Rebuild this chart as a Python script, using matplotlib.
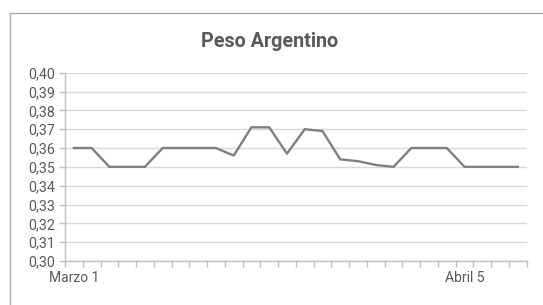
import numpy as np
import matplotlib
matplotlib.use("Agg")
import matplotlib.pyplot as plt
from matplotlib.patches import Rectangle
from matplotlib.ticker import FuncFormatter, MultipleLocator

# tipo de cambio diario (26 valores)
valores = [0.360, 0.360, 0.350, 0.350, 0.350, 0.360, 0.360, 0.360, 0.360, 0.356,
           0.371, 0.371, 0.357, 0.370, 0.369, 0.354, 0.353, 0.351, 0.350, 0.360,
           0.360, 0.360, 0.350, 0.350, 0.350, 0.350]
etiquetas = ["Marzo 1", "Abril 5"]
idx_etiquetas = [0, 22]
titulo = "Peso Argentino"

plt.rcParams['font.family'] = ['Roboto', 'DejaVu Sans']
texto = '#595959'
gris = '#bfbfbf'

fig = plt.figure(figsize=(5.43, 3.05), dpi=100)
ax = fig.add_axes([0.1197, 0.1443, 0.8503, 0.6173])

x = np.arange(len(valores))
ax.plot(x, valores, color='#7f7f7f', lw=1.7, solid_joinstyle='round')

ax.set_xlim(-0.5, len(valores) - 0.5)
ax.set_ylim(0.30, 0.40)
ax.yaxis.set_major_locator(MultipleLocator(0.01))
ax.yaxis.set_major_formatter(FuncFormatter(lambda v, p: f"{v:.2f}".replace('.', ',')))
ax.grid(axis='y', color='#d9d9d9', lw=1)
ax.set_axisbelow(True)

ax.set_xticks(idx_etiquetas)
ax.set_xticklabels(etiquetas)
ax.set_xticks(np.arange(-0.5, len(valores), 1), minor=True)
ax.tick_params(axis='x', which='major', length=0, pad=7, labelsize=10, labelcolor=texto)
ax.tick_params(axis='x', which='minor', length=4, color=gris, width=1)
ax.tick_params(axis='y', length=4, color=gris, width=1, labelsize=10.3, labelcolor=texto, pad=3)

for s in ['top', 'right']:
    ax.spines[s].set_visible(False)
for s in ['left', 'bottom']:
    ax.spines[s].set_color(gris)
    ax.spines[s].set_linewidth(1)

fig.text(0.497, 1 - 41.7 / 305, titulo, ha='center', va='center',
         fontsize=14.2, fontweight='bold', color=texto)

# marco del grafico
tope = 1 - 13 / 305
fig.patches.append(Rectangle((10 / 543, -0.2), 1.2, tope + 0.2,
                             transform=fig.transFigure, fill=False,
                             edgecolor='#a6a6a6', lw=1))

fig.savefig('out.png', dpi=100)
